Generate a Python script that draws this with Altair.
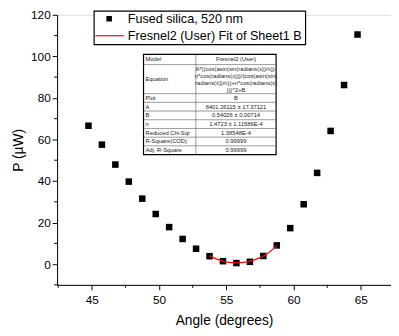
import altair as alt
import pandas as pd

FONT = "Liberation Sans"

# ---- measured data ----
angle = [44.75, 45.75, 46.75, 47.75, 48.75, 49.75, 50.75, 51.75, 52.75, 53.75,
         54.75, 55.75, 56.75, 57.75, 58.75, 59.75, 60.75, 61.75, 62.75, 63.75, 64.75]
power = [66.6, 57.5, 47.9, 39.7, 31.5, 24.1, 17.8, 12.1, 7.4, 3.8,
         1.4, 0.5, 1.1, 3.9, 9.0, 17.3, 28.8, 43.9, 64.1, 86.2, 110.5]

# ---- fit curve ----
fit_angle = [53.75, 54.25, 54.75, 55.25, 55.75, 56.25, 56.75, 57.25, 57.75, 58.25, 58.75]
fit_power = [4.0, 2.5, 1.4, 0.8, 0.6, 0.8, 1.4, 2.4, 3.9, 6.0, 9.0]

# ---- legend / table text ----
legend_labels = ["Fused silica, 520 nm", "Fresnel2 (User) Fit of Sheet1 B"]
table_keys = ["Plot", "A", "B", "n", "Reduced Chi-Sqr", "R-Square(COD)", "Adj. R-Square"]
table_vals = ["B", "8401.26115 \u00b1 17.37121", "0.54026 \u00b1 0.00714",
              "1.4723 \u00b1 1.11586E-4", "1.38548E-4", "0.99999", "0.99999"]
equation_lines = ["A*((cos(asin(sin(radians(x))/n))-",
                  "n*cos(radians(x)))/(cos(asin(sin(",
                  "radians(x))/n))+n*cos(radians(x)",
                  ")))^2+B"]

x_major = [45, 50, 55, 60, 65]
x_minor = [42.5, 47.5, 52.5, 57.5, 62.5]
y_major = [0, 20, 40, 60, 80, 100, 120]
y_minor = [-10, 10, 30, 50, 70, 90, 110]

df = pd.DataFrame({"angle": angle, "power": power})
dfit = pd.DataFrame({"angle": fit_angle, "power": fit_power})
dxm = pd.DataFrame({"v": x_minor})
dym = pd.DataFrame({"v": y_minor})
one = pd.DataFrame({"a": [0]})

W, H = 340, 275
xscale = alt.Scale(domain=[42.42, 67.24], nice=False, zero=False)
yscale = alt.Scale(domain=[-10, 120], nice=False, zero=False)

common = dict(
    grid=False, domainColor="black", tickColor="black", labelColor="black",
    titleColor="black", labelFont=FONT, titleFont=FONT, labelFontSize=12,
    titleFontSize=14, titleFontWeight="normal", tickSize=5, labelFlush=False,
    domainWidth=1, tickWidth=1,
)
xaxis = alt.Axis(values=x_major, title="Angle (degrees)", labelPadding=5,
                 titlePadding=8, **common)
yaxis = alt.Axis(values=y_major, title="P (\u00b5W)", labelPadding=2,
                 titlePadding=5, **common)

points = alt.Chart(df).mark_square(size=44, color="black", opacity=1).encode(
    x=alt.X("angle:Q", scale=xscale, axis=xaxis),
    y=alt.Y("power:Q", scale=yscale, axis=yaxis),
)
fit = alt.Chart(dfit).mark_line(color="red", strokeWidth=1.2, interpolate="monotone").encode(
    x=alt.X("angle:Q", scale=xscale),
    y=alt.Y("power:Q", scale=yscale),
)
xminor = alt.Chart(dxm).mark_rule(color="black", strokeWidth=1).encode(
    x=alt.X("v:Q", scale=xscale), y=alt.value(H), y2=alt.value(H + 3))
yminor = alt.Chart(dym).mark_rule(color="black", strokeWidth=1).encode(
    y=alt.Y("v:Q", scale=yscale), x=alt.value(0), x2=alt.value(-3))

layers = [points, fit, xminor, yminor]

def rect(x1, x2, y1, y2, stroke="black", sw=1.0):
    return alt.Chart(one).mark_rect(fill="white", stroke=stroke, strokeWidth=sw).encode(
        x=alt.value(x1), x2=alt.value(x2), y=alt.value(y1), y2=alt.value(y2))

def hrule(x1, x2, y, color="black", sw=0.6):
    return alt.Chart(one).mark_rule(color=color, strokeWidth=sw).encode(
        x=alt.value(x1), x2=alt.value(x2), y=alt.value(y))

def vrule(x, y1, y2, color="black", sw=0.6):
    return alt.Chart(one).mark_rule(color=color, strokeWidth=sw).encode(
        x=alt.value(x), y=alt.value(y1), y2=alt.value(y2))

def text(x, y, s, size, align="left", color="black"):
    return alt.Chart(one).mark_text(
        align=align, baseline="middle", font=FONT, fontSize=size, color=color).encode(
        x=alt.value(x), y=alt.value(y), text=alt.value(s))

# ---- legend box ----
layers.append(rect(37.7, 253, -3.7, 30.3, sw=1.2))
layers.append(alt.Chart(one).mark_square(size=32, color="black", opacity=1).encode(
    x=alt.value(53), y=alt.value(4)))
layers.append(hrule(39, 68, 21.3, color="red", sw=1.2))
layers.append(text(72, 4.5, legend_labels[0], 12.8))
layers.append(text(72, 21.8, legend_labels[1], 12.8))

# ---- parameter table ----
tl, tr, tdiv = 88, 223, 141.3
t_top, t_model, t_eq = 40.3, 50.7, 80.3
row_h = (142.3 - t_eq) / len(table_keys)
t_bot = t_eq + row_h * len(table_keys)
layers.append(rect(tl, tr, t_top, t_bot, sw=1.2))
grey = "#555555"
layers.append(vrule(tdiv, t_top, t_bot, color=grey))
layers.append(hrule(tl, tr, t_model, color=grey))
layers.append(hrule(tl, tr, t_eq, color=grey))
for i in range(1, len(table_keys)):
    layers.append(hrule(tl, tr, t_eq + i * row_h, color=grey))

cx = (tdiv + tr) / 2
tc = "#222222"
layers.append(text(tl + 2, (t_top + t_model) / 2, "Model", 5.9, color=tc))
layers.append(text(cx, (t_top + t_model) / 2, "Fresnel2 (User)", 5.9, align="center", color=tc))
layers.append(text(tl + 2, (t_model + t_eq) / 2, "Equation", 5.9, color=tc))
for j, line in enumerate(equation_lines):
    layers.append(text(cx, t_model + 5.0 + 7.0 * j, line, 5.9, align="center", color=tc))
for i, (k, v) in enumerate(zip(table_keys, table_vals)):
    yc = t_eq + (i + 0.5) * row_h
    layers.append(text(tl + 2, yc, k, 5.9, color=tc))
    layers.append(text(cx, yc, v, 5.9, align="center", color=tc))

chart = alt.layer(*layers).properties(
    width=W, height=H,
    autosize=alt.AutoSizeParams(type="none"),
    padding={"left": 50, "top": 4, "right": 0, "bottom": 41},
).configure_view(stroke=None).configure(background="white")

chart.save("out.html", embed_options={"renderer": "svg", "actions": False})
